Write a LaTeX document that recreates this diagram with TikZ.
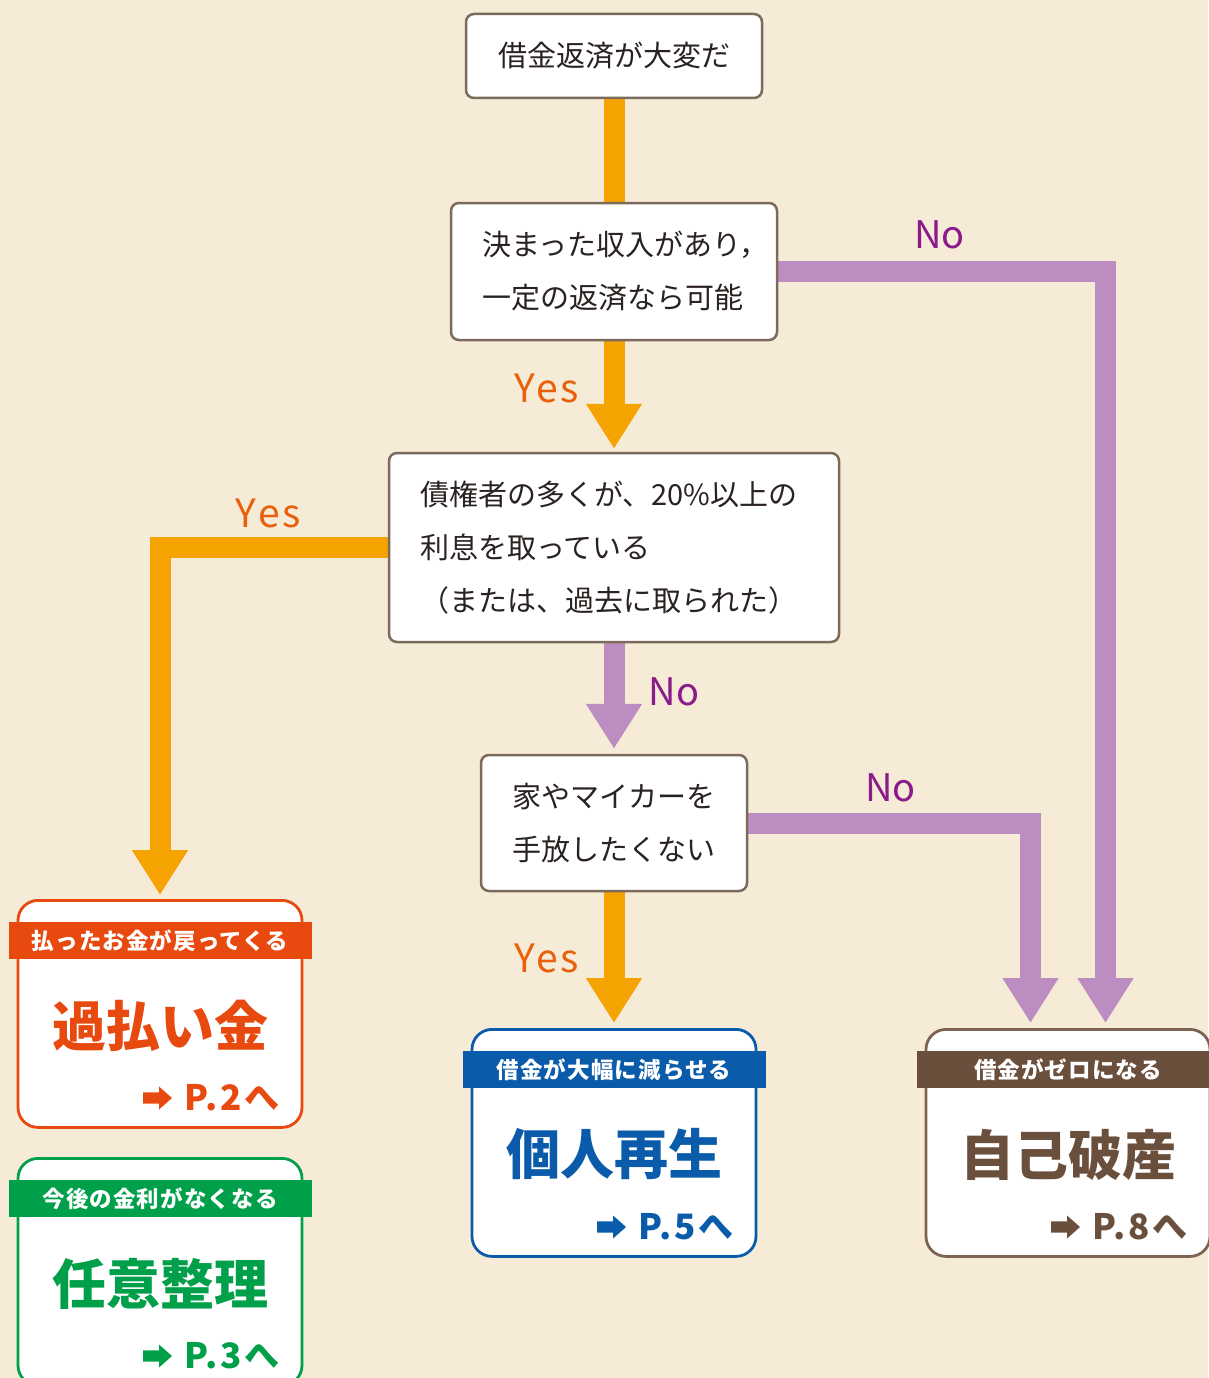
\documentclass[tikz,border=0pt]{standalone}
\usepackage{fontspec}
\newfontfamily\jp{Noto Sans CJK JP}
\newfontfamily\jpsp{Noto Sans CJK JP}[LetterSpace=5]
\newfontfamily\jppg{Noto Sans CJK JP}[LetterSpace=8]
\newfontfamily\jpyes{Noto Sans CJK JP}[LetterSpace=8]
\usetikzlibrary{arrows.meta}
\definecolor{bg}{HTML}{F6EBD6}
\definecolor{arrOr}{HTML}{F5A300}
\definecolor{arrPu}{HTML}{BB8DC1}
\definecolor{yesC}{HTML}{E8600A}
\definecolor{noC}{HTML}{8B1A8A}
\definecolor{qBorder}{HTML}{7C6A5C}
\definecolor{qText}{HTML}{2A2220}
\definecolor{cOrange}{HTML}{E8490F}
\definecolor{cGreen}{HTML}{00A04A}
\definecolor{cBlue}{HTML}{0A5BAA}
\definecolor{cBrown}{HTML}{6B4F3D}
\definecolor{cBrownB}{HTML}{7D6452}
\pgfdeclarelayer{bglayer}
\pgfdeclarelayer{arrlayer}
\pgfsetlayers{bglayer,arrlayer,main}
\tikzset{
  qbox/.style={draw=qBorder, line width=2.5pt, fill=white, rounded corners=8pt,
    inner ysep=0pt, inner xsep=31pt, text=qText, align=left,
    font=\jp\fontsize{29}{53}\selectfont},
  rbox/.style={line width=2.8pt, fill=white, rounded corners=20pt,
    minimum width=284pt, minimum height=227pt, inner sep=0pt},
  banner/.style={minimum width=303pt, minimum height=37pt, inner sep=0pt,
    text=white, font=\jpsp\bfseries\fontsize{22.5}{24}\selectfont},
  rtitle/.style={inner sep=0pt, font=\jp\bfseries\fontsize{54}{56}\selectfont},
  rpage/.style={inner sep=0pt, anchor=west, font=\jppg\bfseries\fontsize{35}{36}\selectfont},
  lab/.style={inner sep=0pt, font=\jp\fontsize{38}{40}\selectfont},
  yeslab/.style={inner sep=0pt, text=yesC, font=\jpyes\fontsize{39}{40}\selectfont},
  orarrow/.style={draw=arrOr, line width=21pt, line join=miter},
  puarrow/.style={draw=arrPu, line width=21pt, line join=miter},
  tipo/.style={-{Triangle[width=53pt,length=45pt]}},
}
\newcommand\resbox[8]{%
  \node[rbox, draw=#5, anchor=north] (#1) at (#2,#3) {};
  \node[banner, fill=#4] (#1b) at (#2,#3+41.5) {#6};
  \node[rtitle, text=#4] (#1t) at (#2,#3+126.5) {#7};
  \node[rpage, text=#4] (#1p) at (#2+24,#3+199) {#8};
  \fill[#4] (#2-17,#3+199-5.6) -- (#2-1,#3+199-5.6) -- (#2-1,#3+199-11.5)
    -- (#2+12,#3+199) -- (#2-1,#3+199+11.5) -- (#2-1,#3+199+5.6)
    -- (#2-17,#3+199+5.6) -- cycle;
}
\begin{document}
\begin{tikzpicture}[x=1pt,y=-1pt]
\useasboundingbox (0,0) rectangle (1208,1378);
\begin{pgfonlayer}{bglayer}
\fill[bg] (0,0) rectangle (1208,1378);
\end{pgfonlayer}

% question boxes
\node[qbox, minimum width=296pt, minimum height=84pt, align=center, inner xsep=0pt] (q1) at (614,56) {借金返済が大変だ};
\node[qbox, text width=264pt, minimum height=137pt] (q2) at (614,271.5) {決まった収入があり，\\一定の返済なら可能};
\node[qbox, text width=388pt, minimum height=189pt] (q3) at (614,547.5) {債権者の多くが、20\%以上の\\利息を取っている\\（または、過去に取られた）};
\node[qbox, text width=204pt, minimum height=136pt] (q4) at (614,823) {家やマイカーを\\手放したくない};

% result boxes
\resbox{r1}{160}{899}{cOrange}{cOrange}{払ったお金が戻ってくる}{過払い金}{P.2へ}
\resbox{r2}{160}{1157}{cGreen}{cGreen}{今後の金利がなくなる}{任意整理}{P.3へ}
\resbox{r3}{614}{1028}{cBlue}{cBlue}{借金が大幅に減らせる}{個人再生}{P.5へ}
\resbox{r4}{1068}{1028}{cBrown}{cBrownB}{借金がゼロになる}{自己破産}{P.8へ}

% connectors
\begin{pgfonlayer}{arrlayer}
\draw[orarrow] (q1.south) -- (q2.north);
\draw[orarrow, tipo, shorten >=3pt] (q2.south) -- (q3.north);
\draw[orarrow, tipo, shorten >=4pt] (q3.west) -| (r1.north);
\draw[puarrow, tipo, shorten >=5pt] (q3.south) -- (q4.north);
\draw[orarrow, tipo, shorten >=5pt] (q4.south) -- (r3.north);
\draw[puarrow, tipo, shorten >=5pt] (q4.east) -| ([xshift=-37.5pt]r4.north);
\draw[puarrow, tipo, shorten >=5pt] (q2.east) -| ([xshift=37.5pt]r4.north);
\end{pgfonlayer}

% labels
\node[yeslab] (y1) at (546.5,388) {Yes};
\node[yeslab] (y2) at (268.5,513) {Yes};
\node[yeslab] (y3) at (546.5,958) {Yes};
\node[lab, text=noC] (n1) at (939.5,235) {No};
\node[lab, text=noC] (n2) at (674,692) {No};
\node[lab, text=noC] (n3) at (890.5,788) {No};
\end{tikzpicture}
\end{document}
